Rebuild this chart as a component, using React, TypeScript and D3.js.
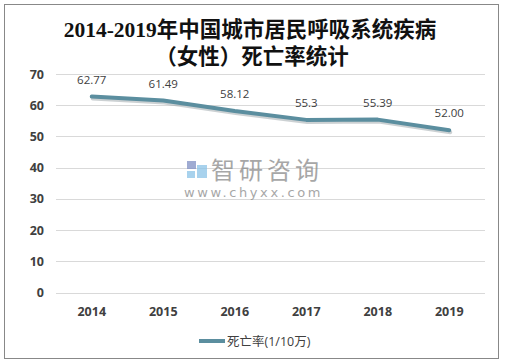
import React, { useEffect, useRef } from 'react';
import * as d3 from 'd3';

const years = ['2014', '2015', '2016', '2017', '2018', '2019'];
const deathRate = [62.77, 61.49, 58.12, 55.3, 55.39, 52.0];
const rateLabels = ['62.77', '61.49', '58.12', '55.3', '55.39', '52.00'];
const yTicks = [0, 10, 20, 30, 40, 50, 60, 70];
const seriesName = '死亡率(1/10万)';

const W = 505;
const H = 364;

export default function App() {
  const ref = useRef<SVGSVGElement>(null);

  useEffect(() => {
    const svg = d3.select(ref.current);
    svg.selectAll('*').remove();

    const x = d3.scaleBand().domain(years).range([56, 485]);
    const y = d3.scaleLinear().domain([0, 70]).range([292.5, 74]);

    // outer frame
    svg.append('rect')
      .attr('x', 4.5).attr('y', 4.5)
      .attr('width', 494).attr('height', 354)
      .attr('fill', '#fff').attr('stroke', '#888').attr('stroke-width', 1);

    // title
    const title = svg.append('text')
      .attr('text-anchor', 'middle')
      .attr('font-family', '"Liberation Serif", "Noto Sans CJK SC"')
      .attr('font-weight', 'bold')
      .attr('font-size', 21.5)
      .attr('fill', '#111');
    title.append('tspan').attr('x', 250).attr('y', 37).text('2014-2019年中国城市居民呼吸系统疾病');
    title.append('tspan').attr('x', 252).attr('y', 64).text('（女性）死亡率统计');

    // grid
    svg.append('g').selectAll('line').data(yTicks).enter().append('line')
      .attr('x1', 56).attr('x2', 485)
      .attr('y1', d => Math.round(y(d)) + 0.5).attr('y2', d => Math.round(y(d)) + 0.5)
      .attr('stroke', '#d9d9d9').attr('stroke-width', 1);

    // y tick labels
    svg.append('g').selectAll('text').data(yTicks).enter().append('text')
      .attr('x', 44).attr('y', d => y(d) + 4.5)
      .attr('text-anchor', 'end')
      .attr('font-family', '"Open Sans", "DejaVu Sans", sans-serif')
      .attr('font-weight', 'bold').attr('font-size', 12.5).attr('fill', '#404040')
      .text(d => d);

    // x tick labels
    svg.append('g').selectAll('text').data(years).enter().append('text')
      .attr('x', d => (x(d) as number) + x.bandwidth() / 2).attr('y', 316)
      .attr('text-anchor', 'middle')
      .attr('font-family', '"Open Sans", "DejaVu Sans", sans-serif')
      .attr('font-weight', 'bold').attr('font-size', 12.5).attr('fill', '#404040')
      .text(d => d);

    // watermark
    const wm = svg.append('g').attr('opacity', 0.75);
    wm.append('rect').attr('x', 187).attr('y', 161).attr('width', 9).attr('height', 8).attr('fill', '#7f8fc4');
    wm.append('rect').attr('x', 197).attr('y', 165).attr('width', 10).attr('height', 13).attr('fill', '#8cc4e8');
    wm.append('rect').attr('x', 187).attr('y', 171).attr('width', 8).attr('height', 7).attr('fill', '#8cc4e8');
    wm.append('text').attr('x', 211).attr('y', 179)
      .attr('font-family', '"Noto Sans CJK SC"').attr('font-size', 24).attr('fill', '#8a8a8a')
      .attr('letter-spacing', 4).text('智研咨询');
    wm.append('text').attr('x', 184).attr('y', 197)
      .attr('font-family', '"DejaVu Sans", sans-serif').attr('font-size', 13).attr('fill', '#8a8a8a')
      .attr('letter-spacing', 2.6).text('www.chyxx.com');

    // line
    const pts = years.map((yr, i) => [(x(yr) as number) + x.bandwidth() / 2, y(deathRate[i])] as [number, number]);
    svg.append('path')
      .attr('d', d3.line()(pts) as string)
      .attr('fill', 'none').attr('stroke', '#9aa3a8').attr('stroke-width', 4)
      .attr('stroke-linecap', 'round').attr('transform', 'translate(1,2)').attr('opacity', 0.5);
    svg.append('path')
      .attr('d', d3.line()(pts) as string)
      .attr('fill', 'none').attr('stroke', '#5b8e9f').attr('stroke-width', 4)
      .attr('stroke-linecap', 'round').attr('stroke-linejoin', 'round');

    // data labels
    svg.append('g').selectAll('text').data(pts).enter().append('text')
      .attr('x', d => d[0]).attr('y', d => d[1] - 13)
      .attr('text-anchor', 'middle')
      .attr('font-family', '"Open Sans", "DejaVu Sans", sans-serif')
      .attr('font-size', 11.5).attr('fill', '#404040')
      .text((_, i) => rateLabels[i]);

    // legend
    svg.append('line')
      .attr('x1', 199).attr('x2', 225).attr('y1', 341).attr('y2', 341)
      .attr('stroke', '#5b8e9f').attr('stroke-width', 4);
    svg.append('text')
      .attr('x', 227).attr('y', 345.5)
      .attr('font-family', '"Open Sans", "Noto Sans CJK SC", sans-serif')
      .attr('font-size', 12.5).attr('fill', '#404040')
      .text(seriesName);
  }, []);

  return <svg ref={ref} width={W} height={H} style={{ display: 'block', position: 'absolute', left: 0, top: 0 }} />;
}
